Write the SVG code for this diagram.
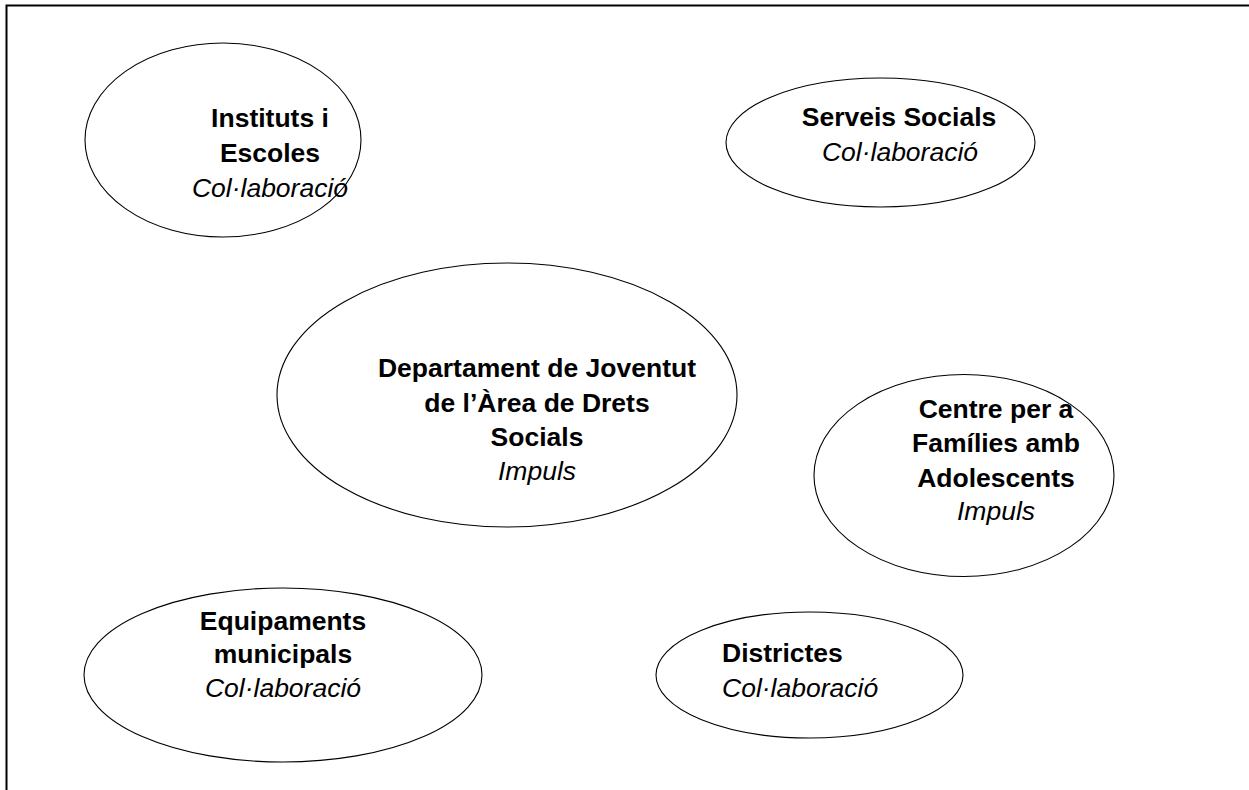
<svg xmlns="http://www.w3.org/2000/svg" width="1249" height="790" viewBox="0 0 1249 790">
<style>
.n{fill:#fff;stroke:#000;stroke-width:1.1}
.b{font-family:"Liberation Sans",Arial,sans-serif;font-size:26.5px;font-weight:bold;fill:#000}
.i{font-family:"Liberation Sans",Arial,sans-serif;font-size:26.5px;font-style:italic;fill:#000}
.c{text-anchor:middle}
.frame{stroke:#000;stroke-width:2;fill:none}
</style>
<rect width="1249" height="790" fill="#fff"/>
<path class="frame" d="M6.5,790 V5.5 H1249"/>
<g id="connectors"></g>
<g id="instituts">
<ellipse class="n" cx="223" cy="140" rx="138" ry="97"/>
<text class="b c" x="270" y="127">Instituts i</text>
<text class="b c" x="270" y="162">Escoles</text>
<text class="i c" x="270" y="197">Col·laboració</text>
</g>
<g id="serveis">
<ellipse class="n" cx="880.5" cy="142.5" rx="154.5" ry="64.5"/>
<text class="b c" x="899" y="126">Serveis Socials</text>
<text class="i c" x="900" y="161">Col·laboració</text>
</g>
<g id="departament">
<ellipse class="n" cx="507" cy="395" rx="230" ry="132"/>
<text class="b c" x="537" y="377">Departament de Joventut</text>
<text class="b c" x="537" y="412">de l’Àrea de Drets</text>
<text class="b c" x="537" y="446">Socials</text>
<text class="i c" x="537" y="480">Impuls</text>
</g>
<g id="centre">
<ellipse class="n" cx="964" cy="475.5" rx="150" ry="101"/>
<text class="b c" x="996" y="418">Centre per a</text>
<text class="b c" x="996" y="452">Famílies amb</text>
<text class="b c" x="996" y="487">Adolescents</text>
<text class="i c" x="996" y="520">Impuls</text>
</g>
<g id="equipaments">
<ellipse class="n" cx="283" cy="675" rx="199" ry="87"/>
<text class="b c" x="283" y="630">Equipaments</text>
<text class="b c" x="283" y="663">municipals</text>
<text class="i c" x="283" y="697">Col·laboració</text>
</g>
<g id="districtes">
<ellipse class="n" cx="809.5" cy="675" rx="153.5" ry="63"/>
<text class="b" x="722" y="662">Districtes</text>
<text class="i" x="722" y="697">Col·laboració</text>
</g>
</svg>
